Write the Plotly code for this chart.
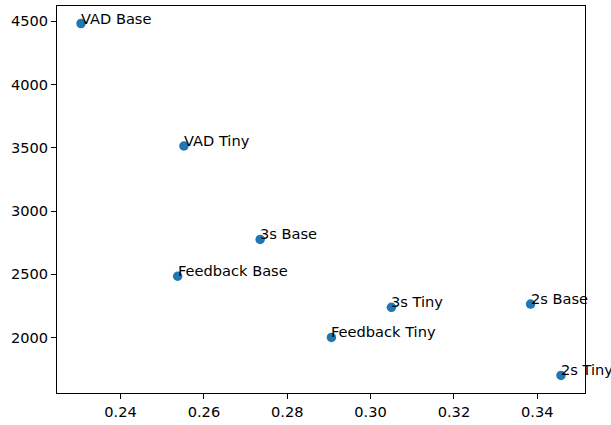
import plotly.graph_objects as go

labels = ["VAD Base", "VAD Tiny", "3s Base", "Feedback Base", "3s Tiny", "2s Base", "Feedback Tiny", "2s Tiny"]
x_vals = [0.2305, 0.2552, 0.2735, 0.2537, 0.3050, 0.3384, 0.2906, 0.3457]
y_vals = [4482, 3514, 2775, 2484, 2238, 2264, 2000, 1700]

xmin, xmax = min(x_vals), max(x_vals)
ymin, ymax = min(y_vals), max(y_vals)
xr = xmax - xmin
yr = ymax - ymin

font = dict(family="DejaVu Sans", size=14.6, color="black")

fig = go.Figure()
fig.add_trace(go.Scatter(
    x=x_vals, y=y_vals, mode="markers",
    marker=dict(color="#1f77b4", size=9.5, line=dict(width=0)),
    showlegend=False, hoverinfo="skip",
))

for lab, xv, yv in zip(labels, x_vals, y_vals):
    fig.add_annotation(
        x=xv, y=yv, text=lab, showarrow=False,
        xanchor="left", yanchor="bottom", borderpad=0,
        xshift=-1, yshift=-4, font=font,
    )

axis_common = dict(
    showline=True, mirror=True, linecolor="black", linewidth=1,
    ticks="outside", ticklen=5, tickwidth=1, tickcolor="black",
    showgrid=False, zeroline=False, tickfont=font,
)

fig.update_layout(
    width=611, height=425,
    margin=dict(l=57, r=26, t=5, b=27),
    plot_bgcolor="white", paper_bgcolor="white",
    xaxis=dict(range=[xmin - 0.05 * xr, xmax + 0.05 * xr], dtick=0.02, tick0=0,
               tickformat=".2f", **axis_common),
    yaxis=dict(range=[ymin - 0.05 * yr, ymax + 0.05 * yr], dtick=500, tick0=0,
               tickformat="d", **axis_common),
)

fig.write_html(
    "out.html",
    config={"displayModeBar": False},
    post_script="document.body.style.margin='0';document.body.style.overflow='hidden';",
)
